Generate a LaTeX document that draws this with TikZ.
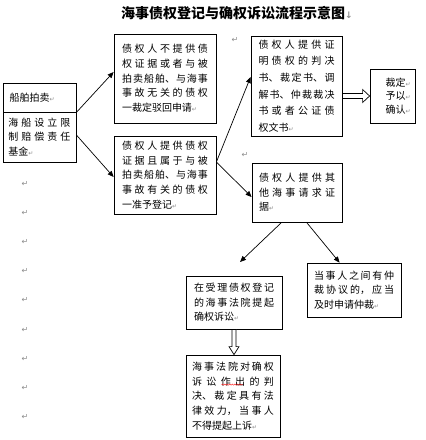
\documentclass[tikz,border=0pt]{standalone}
\usepackage{fontspec}
\usetikzlibrary{arrows.meta,calc,decorations.pathmorphing}
\newfontfamily\cjk{Noto Sans CJK SC}
\newfontfamily\dv{DejaVu Sans}
\XeTeXlinebreaklocale "zh"
\XeTeXlinebreakskip=0pt plus 6pt
\definecolor{pm}{gray}{0.55}
\newcommand\pmk{{\dv\fontsize{6}{6}\selectfont\color{pm}↵}}
\begin{document}
\begin{tikzpicture}[x=1pt,y=-1pt,
  box/.style={draw, line width=0.8pt, inner sep=0pt, align=justify,
    font=\cjk\fontsize{10}{14.7}\selectfont},
  arr/.style={line width=0.7pt, -{Triangle[length=6pt,width=5pt]}},
  hollow/.style={draw, line width=0.7pt, fill=white},
  pmark/.style={inner sep=0pt, text=pm, font=\dv\fontsize{8}{8}\selectfont}]
\useasboundingbox (0,0) rectangle (426,440);
\fill[white] (0,0) rectangle (426,440);

\node[anchor=west, inner sep=0pt, font=\cjk\bfseries\fontsize{14}{14}\selectfont] (title) at (121,13)
  {海事债权登记与确权诉讼流程示意图{\dv\fontsize{9}{9}\selectfont\color{pm}↓}};

\node[box, minimum width=73, minimum height=29, text width=60, align=left] (A) at (39.5,97.5)
  {船舶拍卖\pmk};
\node[box, minimum width=73, minimum height=50, text width=62] (B) at (39.5,137)
  {海船设立限\linebreak 制赔偿责任\linebreak 基金\pmk};

\node[box, minimum width=102, minimum height=89, text width=86] (C) at (165,78.5)
  {债权人不提供债\linebreak 权证据或者与被\linebreak 拍卖船舶、与海事\linebreak 事故无关的债权\linebreak 一裁定驳回申请\pmk};
\node[box, minimum width=102, minimum height=78, text width=86] (D) at (165,175)
  {债权人提供债权\linebreak 证据且属于与被\linebreak 拍卖船舶、与海事\linebreak 事故有关的债权\linebreak 一准予登记\pmk};

\node[box, minimum width=91, minimum height=100, text width=76,
  font=\cjk\fontsize{10}{16.6}\selectfont] (E) at (296.5,86)
  {债权人提供证\linebreak 明债权的判决\linebreak 书、裁定书、调\linebreak 解书、仲裁裁决\linebreak 书或者公证债\linebreak 权文书\pmk};
\node[box, minimum width=45, minimum height=54, text width=36, align=left,
  font=\cjk\fontsize{10}{13.5}\selectfont] (F) at (392.5,96)
  {\mbox{\hspace{11pt}裁定\pmk}\\\mbox{\hspace{11pt}予以\pmk}\\\mbox{\hspace{11pt}确认\pmk}};

\node[box, minimum width=90, minimum height=59, text width=76] (G) at (297,192.5)
  {债权人提供其\linebreak 他海事请求证\linebreak 据\pmk\par\vspace*{10pt}};

\node[box, minimum width=96, minimum height=53, text width=80] (H) at (234,302.5)
  {在受理债权登记\linebreak 的海事法院提起\linebreak 确权诉讼\pmk};
\node[box, minimum width=94, minimum height=54, text width=80] (I) at (354,290)
  {当事人之间有仲\linebreak 裁协议的，应当\linebreak 及时申请仲裁\pmk};
\node[box, minimum width=94, minimum height=82, text width=82] (J) at (233,396)
  {海事法院对确权\linebreak 诉讼作出的判\linebreak 决、裁定具有法\linebreak 律效力，当事人\linebreak 不得提起上诉\pmk};

% red spell-check squiggle
\draw[red, line width=0.4pt, decorate, decoration={snake, amplitude=0.6pt, segment length=2.5pt}]
  ($(J.north west)+(36,30)$) -- ++(21,0);

% single arrows
\draw[arr] (A.south east) -- ($(C.west)+(0,-6.5)$);
\draw[arr] ($(B.east)+(0,-2)$) -- ($(D.west)+(0,2)$);
\draw[arr] ($(D.east)+(0,-13)$) -- ($(E.west)+(0,-9)$);
\draw[arr] ($(D.east)+(0,-13)$) -- ($(G.west)+(0,4.5)$);
\coordinate (h1) at (240,262);
\draw[arr] ($(G.south west)+(30,0)$) -- (h1);
\draw[arr] ($(G.south west)+(55,0)$) -- ($(I.north west)+(33,0)$);

% hollow arrows
\path[hollow] let \p1=(E.east|-F.west), \p2=(F.west) in
  (\x1,\y1-2.5pt) -- (\x2-7pt,\y1-2.5pt) -- (\x2-7pt,\y1-6.5pt) -- (\x2,\y1)
  -- (\x2-7pt,\y1+6.5pt) -- (\x2-7pt,\y1+2.5pt) -- (\x1,\y1+2.5pt) -- cycle;
\path[hollow] let \p1=(H.south), \p2=(H.south|-J.north) in
  (\x1-2pt,\y1) -- (\x1-2pt,\y2+8pt) -- (\x1-5pt,\y2+8pt) -- (\x1,\y2)
  -- (\x1+5pt,\y2+8pt) -- (\x1+2pt,\y2+8pt) -- (\x1+2pt,\y1) -- cycle;

% paragraph marks
\node[pmark] (m10) at (235,40) {↵};
\node[pmark] (m11) at (245,155) {↵};
\foreach \i in {0,...,8} {
  \node[pmark] (lm\i) at (25,{184+29.1*\i}) {↵};
}
\end{tikzpicture}
\end{document}
